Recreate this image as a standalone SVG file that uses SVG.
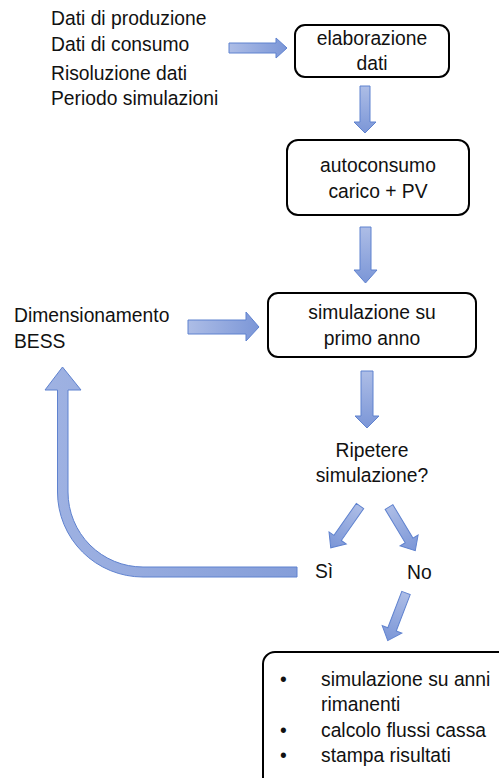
<svg xmlns="http://www.w3.org/2000/svg" width="499" height="778" viewBox="0 0 499 778">
<style>
text{font-family:"Liberation Sans",Arial,sans-serif;font-size:19.3px;fill:#111}
.c{text-anchor:middle}
.box{fill:#fff;stroke:#000;stroke-width:2}
.ah{stroke:#5f82cf;stroke-width:1;stroke-linejoin:miter}
.h{fill:url(#gh)}
.v{fill:url(#gv)}
.b{fill:url(#gb)}
</style>
<defs>
<linearGradient id="gh" x1="0" y1="0" x2="1" y2="0"><stop offset="0" stop-color="#adbde6"/><stop offset="1" stop-color="#7b96d7"/></linearGradient>
<linearGradient id="gv" x1="0" y1="0" x2="0" y2="1"><stop offset="0" stop-color="#adbde6"/><stop offset="1" stop-color="#7b96d7"/></linearGradient>
<linearGradient id="gb" x1="0" y1="0" x2="1" y2="0"><stop offset="0" stop-color="#9fb2e2"/><stop offset="1" stop-color="#859ed9"/></linearGradient>
<path id="darr" d="M-4.5,0 H4.5 V39 H10.5 L0,51 L-10.5,39 H-4.5 Z"/>
</defs>
<g id="inputs">
<text x="51" y="25">Dati di produzione</text>
<text x="51" y="51">Dati di consumo</text>
<text x="51" y="80">Risoluzione dati</text>
<text x="51" y="105">Periodo simulazioni</text>
</g>
<g id="elaborazione">
<rect class="box" x="295" y="25" width="154" height="52" rx="10"/>
<text class="c" x="372" y="45">elaborazione</text>
<text class="c" x="372" y="70">dati</text>
</g>
<g id="autoconsumo">
<rect class="box" x="287" y="140" width="182" height="75" rx="11"/>
<text class="c" x="378" y="172">autoconsumo</text>
<text class="c" x="378" y="198">carico + PV</text>
</g>
<g id="simulazione">
<rect class="box" x="268" y="293" width="208" height="64" rx="10"/>
<text class="c" x="372" y="319">simulazione su</text>
<text class="c" x="372" y="345">primo anno</text>
</g>
<g id="dimensionamento">
<text x="14" y="322">Dimensionamento</text>
<text x="14" y="348">BESS</text>
</g>
<g id="ripetere">
<text class="c" x="372" y="457">Ripetere</text>
<text class="c" x="372" y="482">simulazione?</text>
</g>
<g id="si"><text x="315" y="578">Sì</text></g>
<g id="no"><text x="407" y="579">No</text></g>
<g id="risultati">
<rect class="box" x="263" y="652" width="250" height="140" rx="12"/>
<text x="280" y="686">•</text>
<text x="321" y="686">simulazione su anni</text>
<text x="321" y="711">rimanenti</text>
<text x="280" y="737">•</text>
<text x="321" y="737">calcolo flussi cassa</text>
<text x="280" y="762">•</text>
<text x="321" y="762">stampa risultati</text>
</g>
<g id="connectors">
<path class="ah h" d="M229,43 H276 V38 L287,48 L276,58 V53 H229 Z"/>
<path class="ah v" d="M360,86 H370 V122 H376 L365,133 L354,122 H360 Z"/>
<path class="ah v" d="M360,227 H371 V270 H377 L365.5,283 L354,270 H360 Z"/>
<path class="ah h" d="M188,320 H246 V312 L259,327 L246,341 V334 H188 Z"/>
<path class="ah v" d="M361,371 H373 V416 H379 L367,428 L355,416 H361 Z"/>
<use class="ah v" href="#darr" transform="translate(360,506) rotate(35)"/>
<use class="ah v" href="#darr" transform="translate(389,507) rotate(-31)"/>
<use class="ah v" href="#darr" transform="translate(406,593) rotate(21)"/>
<path class="ah b" d="M297,567 H143 A75,75 0 0 1 68,492 V390 H81 L62.5,367 L45,390 H57.5 V492 A85.5,85 0 0 0 143,577 H297 Z"/>
</g>
</svg>
